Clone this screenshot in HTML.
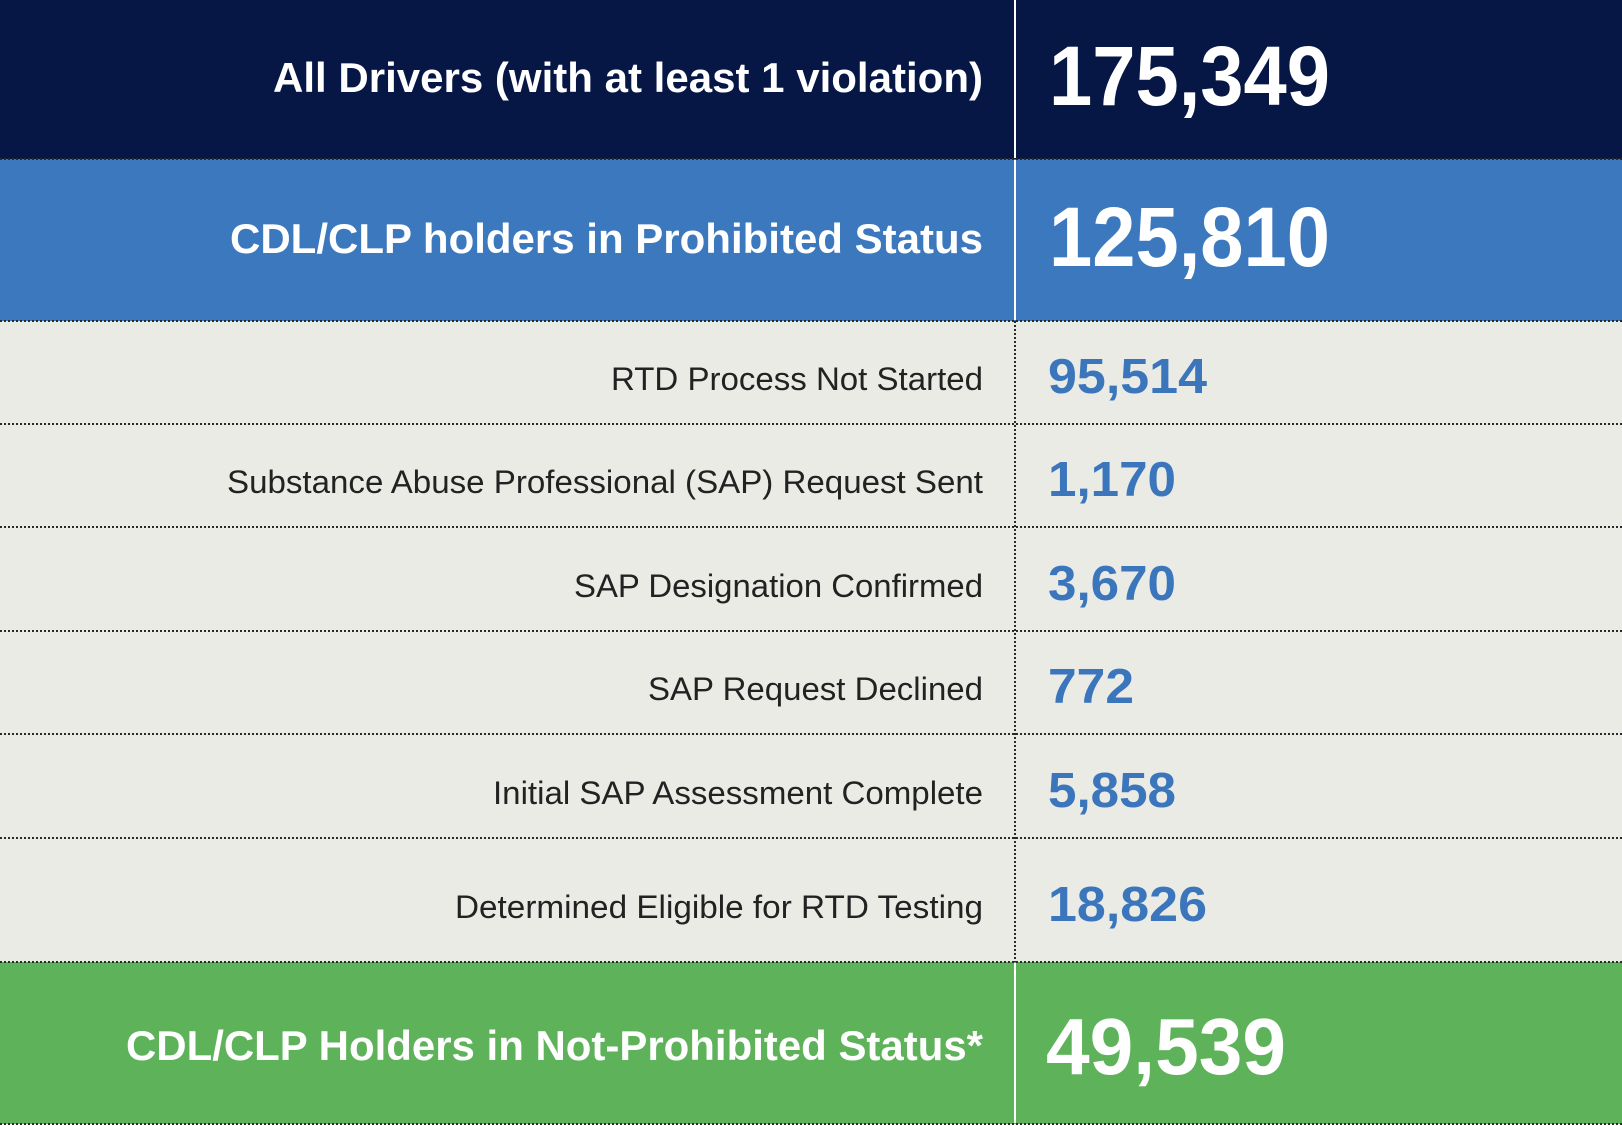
<!DOCTYPE html>
<html><head><meta charset="utf-8"><style>
html,body{margin:0;padding:0;background:#fff}
svg{display:block}
text{font-family:"Liberation Sans",Arial,sans-serif}
</style></head><body>
<svg width="1622" height="1126" viewBox="0 0 1622 1126" xmlns="http://www.w3.org/2000/svg">
<rect x="0" y="0" width="1622" height="159" fill="#061746"/>
<rect x="0" y="159" width="1622" height="162" fill="#3c78bd"/>
<rect x="0" y="321" width="1622" height="641" fill="#ebebe6"/>
<rect x="0" y="962" width="1622" height="162" fill="#5eb35a"/>
<g stroke="#2a2a2a" stroke-width="2" stroke-dasharray="2,2">
<line x1="0" y1="159" x2="1622" y2="159"/>
<line x1="0" y1="321" x2="1622" y2="321"/>
<line x1="0" y1="424" x2="1622" y2="424"/>
<line x1="0" y1="527" x2="1622" y2="527"/>
<line x1="0" y1="631" x2="1622" y2="631"/>
<line x1="0" y1="734" x2="1622" y2="734"/>
<line x1="0" y1="838" x2="1622" y2="838"/>
<line x1="0" y1="962" x2="1622" y2="962"/>
<line x1="0" y1="1124" x2="1622" y2="1124"/>
<line x1="1015" y1="321" x2="1015" y2="962"/>
</g>
<g stroke="#ffffff" stroke-width="2">
<line x1="1015" y1="0" x2="1015" y2="158"/>
<line x1="1015" y1="160" x2="1015" y2="320"/>
<line x1="1015" y1="963" x2="1015" y2="1123"/>
</g>
<g fill="#fff" font-weight="bold">
<text x="273" y="92" font-size="42" textLength="710" lengthAdjust="spacingAndGlyphs">All Drivers (with at least 1 violation)</text>
<text x="1049" y="105" font-size="84" textLength="281" lengthAdjust="spacingAndGlyphs">175,349</text>
<text x="230" y="253" font-size="42" textLength="753" lengthAdjust="spacingAndGlyphs">CDL/CLP holders in Prohibited Status</text>
<text x="1049" y="266" font-size="84" textLength="281" lengthAdjust="spacingAndGlyphs">125,810</text>
<text x="126" y="1060" font-size="42" textLength="857" lengthAdjust="spacingAndGlyphs">CDL/CLP Holders in Not-Prohibited Status*</text>
<text x="1046" y="1074" font-size="80" textLength="240" lengthAdjust="spacingAndGlyphs">49,539</text>
</g>
<g fill="#222" font-size="32">
<text x="611" y="390" textLength="372" lengthAdjust="spacingAndGlyphs">RTD Process Not Started</text>
<text x="227" y="493" textLength="756" lengthAdjust="spacingAndGlyphs">Substance Abuse Professional (SAP) Request Sent</text>
<text x="574" y="597" textLength="409" lengthAdjust="spacingAndGlyphs">SAP Designation Confirmed</text>
<text x="648" y="700" textLength="335" lengthAdjust="spacingAndGlyphs">SAP Request Declined</text>
<text x="493" y="804" textLength="490" lengthAdjust="spacingAndGlyphs">Initial SAP Assessment Complete</text>
<text x="455" y="918" textLength="528" lengthAdjust="spacingAndGlyphs">Determined Eligible for RTD Testing</text>
</g>
<g fill="#3b76bc" font-size="49" font-weight="bold">
<text x="1048" y="393" textLength="159" lengthAdjust="spacingAndGlyphs">95,514</text>
<text x="1048" y="496" textLength="128" lengthAdjust="spacingAndGlyphs">1,170</text>
<text x="1048" y="600" textLength="128" lengthAdjust="spacingAndGlyphs">3,670</text>
<text x="1048" y="703" textLength="86" lengthAdjust="spacingAndGlyphs">772</text>
<text x="1048" y="807" textLength="128" lengthAdjust="spacingAndGlyphs">5,858</text>
<text x="1048" y="921" textLength="159" lengthAdjust="spacingAndGlyphs">18,826</text>
</g>
</svg>
</body></html>
